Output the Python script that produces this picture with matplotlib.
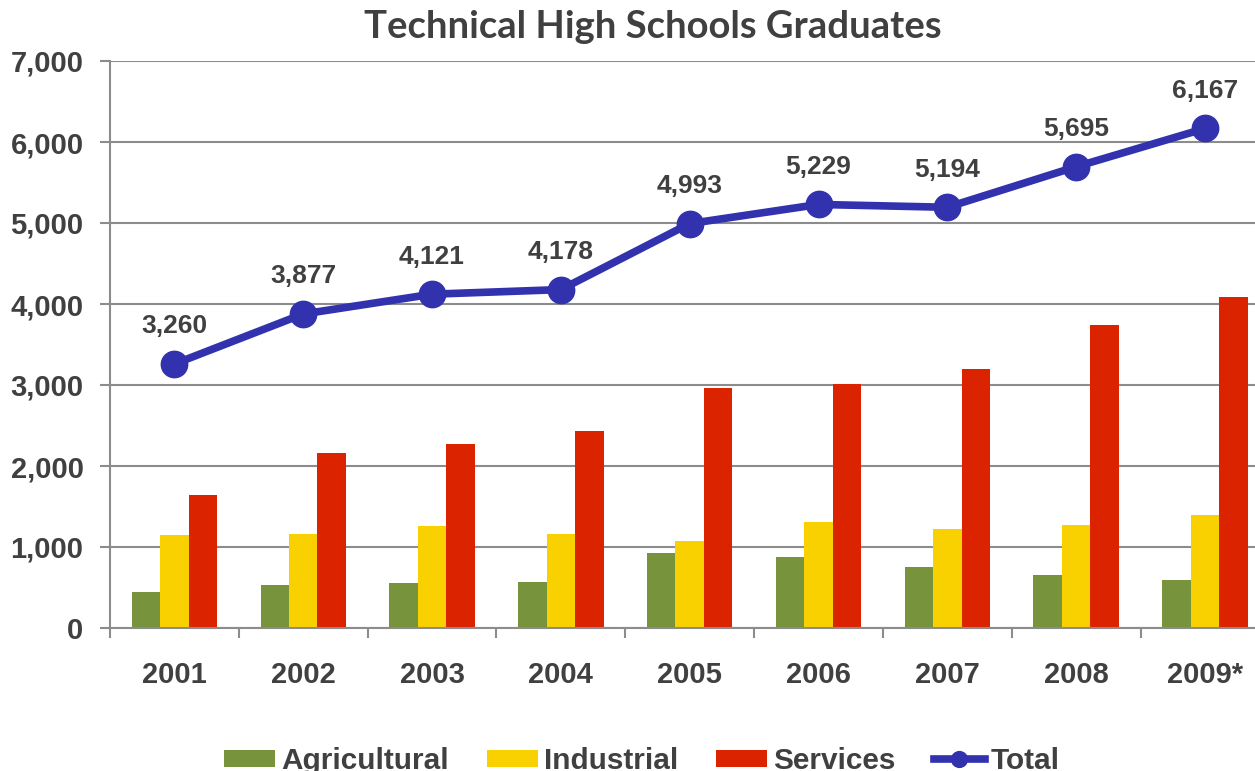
import numpy as np
import matplotlib.pyplot as plt
from matplotlib.ticker import FuncFormatter, FixedLocator

years = ['2001', '2002', '2003', '2004', '2005', '2006', '2007', '2008', '2009*']
agricultural = [441, 531, 555, 568, 926, 876, 749, 654, 597]
industrial = [1148, 1160, 1259, 1160, 1070, 1305, 1222, 1267, 1391]
services = [1638, 2156, 2272, 2432, 2967, 3016, 3193, 3741, 4082]
total = [3260, 3877, 4121, 4178, 4993, 5229, 5194, 5695, 6167]

c_agr = '#77933C'
c_ind = '#F9D000'
c_ser = '#DC2300'
c_tot = '#3232AE'
txt = '#404040'

plt.rcParams['font.family'] = ['Liberation Sans', 'DejaVu Sans']

fig = plt.figure(figsize=(12.55, 7.71), dpi=100)
ax = fig.add_axes([110/1255, 1-628/771, 1-110/1255, (628-61)/771])

x = np.arange(len(years))
w = 0.221
b1 = ax.bar(x - w, agricultural, w, color=c_agr, label='Agricultural', zorder=2)
b2 = ax.bar(x, industrial, w, color=c_ind, label='Industrial', zorder=2)
b3 = ax.bar(x + w, services, w, color=c_ser, label='Services', zorder=2)
ln, = ax.plot(x, total, color=c_tot, lw=5.5, marker='o', ms=19, label='Total', zorder=3)

for xi, v in zip(x, total):
    ax.annotate('{:,}'.format(v), (xi, v), xytext=(0, 27), textcoords='offset points',
                ha='center', va='center', fontsize=19, fontweight='bold', color=txt)

ax.set_ylim(0, 7000)
ax.set_xlim(-0.5, (1255-175)/128.75)
ax.set_yticks(range(0, 7001, 1000))
ax.yaxis.set_major_formatter(FuncFormatter(lambda v, p: '{:,}'.format(int(v))))
ax.yaxis.grid(True, color='#8c8c8c', lw=1.5, zorder=0)
ax.set_axisbelow(True)

ax.xaxis.set_major_locator(FixedLocator(np.arange(-0.5, len(years), 1.0)))
ax.xaxis.set_minor_locator(FixedLocator(x))
ax.set_xticklabels([], minor=False)
ax.set_xticklabels(years, minor=True)
ax.tick_params(axis='x', which='major', length=7, width=1.5, color='#8c8c8c')
ax.tick_params(axis='x', which='minor', length=0, pad=24, labelsize=21, labelcolor=txt)
ax.tick_params(axis='y', length=7, width=1.5, color='#8c8c8c', pad=12, labelsize=21, labelcolor=txt)
for lab in ax.get_xticklabels(minor=True) + ax.get_yticklabels():
    lab.set_fontweight('bold')

for s in ['top', 'right']:
    ax.spines[s].set_visible(False)
for s in ['left', 'bottom']:
    ax.spines[s].set_color('#8c8c8c')
    ax.spines[s].set_linewidth(1.5)

fig.text(653/1255, 1-27/771, 'Technical High Schools Graduates', ha='center', va='center',
         fontsize=27.5, fontweight='bold', color=txt, family=['Lato', 'DejaVu Sans'])

leg = fig.legend([b1, b2, b3, ln], ['Agricultural', 'Industrial', 'Services', 'Total'],
                 loc='center', bbox_to_anchor=(642/1255, 1-761/771), ncol=4, frameon=False,
                 fontsize=21.4, handlelength=1.72, handleheight=0.5, handletextpad=0.2,
                 columnspacing=1.28, markerscale=0.6)
for t in leg.get_texts():
    t.set_fontweight('bold')
    t.set_color(txt)

fig.savefig('out.png', dpi=100)
